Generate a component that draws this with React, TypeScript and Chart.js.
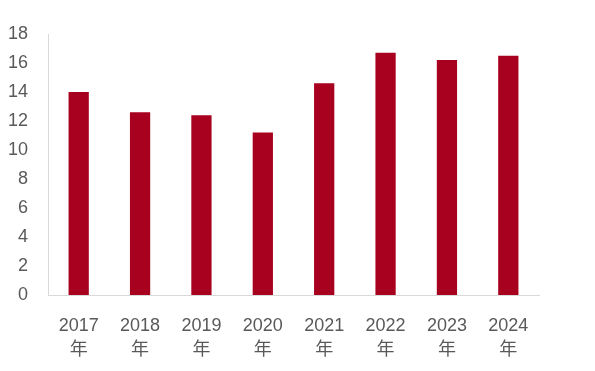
import React, { useEffect, useRef } from "react";
import { Chart, registerables } from "chart.js";

Chart.register(...registerables);

const categories: string[][] = [
  ["2017", "年"],
  ["2018", "年"],
  ["2019", "年"],
  ["2020", "年"],
  ["2021", "年"],
  ["2022", "年"],
  ["2023", "年"],
  ["2024", "年"],
];
const values: number[] = [14.0, 12.6, 12.4, 11.2, 14.6, 16.7, 16.2, 16.5];
const yMin = 0;
const yMax = 18;
const yStep = 2;

const FONT = '"Liberation Sans", "Noto Sans CJK SC", sans-serif';

export default function App() {
  const ref = useRef<HTMLCanvasElement | null>(null);
  useEffect(() => {
    if (!ref.current) return;
    const chart = new Chart(ref.current, {
      type: "bar",
      data: {
        labels: categories,
        datasets: [
          {
            data: values,
            backgroundColor: "#A8001F",
            borderWidth: 0,
            barPercentage: 0.33,
            categoryPercentage: 1,
          },
        ],
      },
      options: {
        animation: false,
        responsive: false,
        maintainAspectRatio: false,
        layout: { padding: { top: 34, right: 56, left: 0, bottom: 0 } },
        plugins: { legend: { display: false }, tooltip: { enabled: false } },
        scales: {
          x: {
            grid: { display: false, drawTicks: false },
            border: { display: true, color: "#D9D9D9", width: 1 },
            ticks: {
              color: "#595959",
              font: { family: FONT, size: 18, lineHeight: 1.35 },
              padding: 19,
              maxRotation: 0,
              autoSkip: false,
            },
            afterFit: (s: any) => {
              s.height = 76;
            },
          },
          y: {
            min: yMin,
            max: yMax,
            grid: { display: false, drawTicks: false },
            border: { display: true, color: "#D9D9D9", width: 1 },
            ticks: {
              stepSize: yStep,
              color: "#595959",
              font: { family: FONT, size: 18 },
              padding: 20,
            },
            afterFit: (s: any) => {
              s.width = 48;
            },
          },
        },
      },
    });
    return () => chart.destroy();
  }, []);
  return (
    <div style={{ position: "fixed", left: 0, top: 0, width: 595, height: 371, background: "#fff" }}>
      <canvas ref={ref} width={595} height={371} style={{ width: 595, height: 371 }} />
    </div>
  );
}
